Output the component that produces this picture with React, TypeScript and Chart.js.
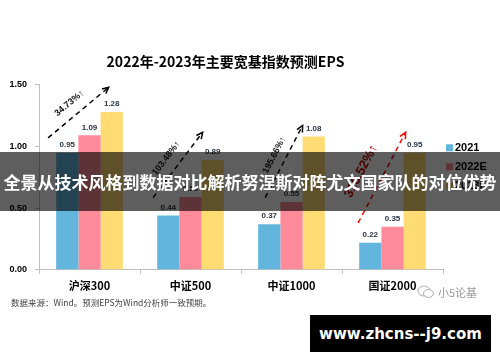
import React, { useEffect, useRef } from 'react';
import { Chart, registerables } from 'chart.js';

Chart.register(...registerables);

// ---------- data ----------
const categories = ['沪深300', '中证500', '中证1000', '国证2000'];
const seriesNames = ['2021', '2022E', '2023E'];
const eps2021 = [0.95, 0.44, 0.37, 0.22];
const eps2022E = [1.09, 0.59, 0.55, 0.35];
const eps2023E = [1.28, 0.89, 1.08, 0.95];
const growthLabels = ['34.73%', '103.48%', '195.66%', '316.52%'];
const yMin = 0;
const yMax = 1.5;
const yStep = 0.5;

const chartTitle = '2022年-2023年主要宽基指数预测EPS';
const footnote = '数据来源：Wind。预测EPS为Wind分析师一致预期。';
const bannerText = '全景从技术风格到数据对比解析努涅斯对阵尤文国家队的对位优势';
const watermarkText = 'www.zhcns--j9.com';
const brandText = '小5论基';

// ---------- styles ----------
const COLORS = ['#62B6DD', '#FF8A99', '#FFDC73'];
const NUM_FONT = '"Liberation Sans", Arial, sans-serif';
const CJK_FONT = '"Noto Sans CJK SC", "Noto Sans", sans-serif';

// growth arrow geometry: offsets in category widths from the category centre, values in EPS units
const arrowGeom = [
  { x0: -0.41, y0: 1.07, x1: 0.19, y1: 1.48, lx: -0.2, ly: 1.35, color: '#000000', textColor: '#111111', size: 9 },
  { x0: -0.37, y0: 0.585, x1: 0.12, y1: 1.115, lx: -0.24, ly: 0.905, color: '#000000', textColor: '#111111', size: 9 },
  { x0: -0.26, y0: 0.585, x1: 0.11, y1: 1.17, lx: -0.17, ly: 0.93, color: '#000000', textColor: '#111111', size: 9 },
  { x0: -0.34, y0: 0.38, x1: 0.13, y1: 1.115, lx: -0.31, ly: 0.8, color: '#FF0000', textColor: '#C00000', size: 13 },
];

export default function App() {
  const ref = useRef<HTMLCanvasElement>(null);

  useEffect(() => {
    const canvas = ref.current;
    if (!canvas) return;

    const valueLabels = {
      id: 'valueLabels',
      afterDatasetsDraw(chart: any) {
        const ctx = chart.ctx;
        ctx.save();
        ctx.font = `bold 8px ${NUM_FONT}`;
        ctx.fillStyle = '#2A3644';
        ctx.textAlign = 'center';
        ctx.textBaseline = 'bottom';
        chart.data.datasets.forEach((ds: any, di: number) => {
          const meta = chart.getDatasetMeta(di);
          meta.data.forEach((bar: any, i: number) => {
            ctx.fillText(Number(ds.data[i]).toFixed(2), bar.x, bar.y - 4);
          });
        });
        ctx.restore();
      },
    };

    const growthArrows = {
      id: 'growthArrows',
      afterDatasetsDraw(chart: any) {
        const ctx = chart.ctx;
        const xs = chart.scales.x;
        const ys = chart.scales.y;
        const cw = (xs.right - xs.left) / categories.length;
        arrowGeom.forEach((g, i) => {
          const cx = xs.getPixelForValue(i);
          const px0 = cx + g.x0 * cw;
          const py0 = ys.getPixelForValue(g.y0);
          const px1 = cx + g.x1 * cw;
          const py1 = ys.getPixelForValue(g.y1);
          const ang = Math.atan2(py1 - py0, px1 - px0);
          ctx.save();
          ctx.strokeStyle = g.color;
          ctx.lineWidth = 1.5;
          ctx.setLineDash([5, 4]);
          ctx.beginPath();
          ctx.moveTo(px0, py0);
          ctx.lineTo(px1, py1);
          ctx.stroke();
          ctx.setLineDash([]);
          const h = 7;
          ctx.beginPath();
          ctx.moveTo(px1 - h * Math.cos(ang - 0.45), py1 - h * Math.sin(ang - 0.45));
          ctx.lineTo(px1, py1);
          ctx.lineTo(px1 - h * Math.cos(ang + 0.45), py1 - h * Math.sin(ang + 0.45));
          ctx.stroke();
          // label
          const lx = cx + g.lx * cw;
          const ly = ys.getPixelForValue(g.ly);
          ctx.translate(lx, ly);
          ctx.rotate(ang);
          ctx.font = `bold ${g.size}px ${NUM_FONT}`;
          ctx.fillStyle = g.textColor;
          ctx.textAlign = 'center';
          ctx.textBaseline = 'middle';
          ctx.fillText(growthLabels[i] + '↑', 0, 0);
          ctx.restore();
        });
      },
    };

    const sideLegend = {
      id: 'sideLegend',
      afterDraw(chart: any) {
        const ctx = chart.ctx;
        const area = chart.chartArea;
        ctx.save();
        ctx.font = `bold 11px ${NUM_FONT}`;
        ctx.textBaseline = 'middle';
        ctx.textAlign = 'left';
        chart.data.datasets.forEach((ds: any, i: number) => {
          const y = area.top + 63 + i * 19;
          const x = area.right + 3;
          ctx.fillStyle = ds.backgroundColor;
          ctx.fillRect(x, y - 3.5, 7, 7);
          ctx.fillStyle = '#000';
          ctx.fillText(ds.label, x + 9, y + 0.5);
        });
        ctx.restore();
      },
    };

    const seriesValues = [eps2021, eps2022E, eps2023E];

    const chart = new Chart(canvas, {
      type: 'bar',
      data: {
        labels: categories,
        datasets: seriesValues.map((d, i) => ({
          label: seriesNames[i],
          data: d,
          backgroundColor: COLORS[i],
          borderWidth: 0,
          categoryPercentage: 0.66,
          barPercentage: 1.0,
        })),
      },
      options: {
        responsive: false,
        animation: false,
        events: [],
        layout: { padding: { left: 8, right: 57, top: 0, bottom: 65 } },
        plugins: {
          legend: { display: false },
          tooltip: { enabled: false },
          title: {
            display: true,
            text: chartTitle,
            color: '#000',
            font: { family: CJK_FONT, size: 14, weight: 'bold' },
            padding: { top: 53, bottom: 15 },
          },
        },
        scales: {
          x: {
            grid: { display: true, drawOnChartArea: false, drawTicks: true, tickLength: 4, color: '#BFBFBF', offset: true },
            border: { color: '#BFBFBF', width: 1 },
            ticks: { color: '#000', font: { family: CJK_FONT, size: 11, weight: 'bold' }, padding: 5, maxRotation: 0 },
          },
          y: {
            min: yMin,
            max: yMax,
            grid: { drawOnChartArea: false, drawTicks: true, tickLength: 4, color: '#BFBFBF' },
            border: { color: '#BFBFBF', width: 1 },
            ticks: {
              stepSize: yStep,
              color: '#000',
              padding: 8,
              font: { family: NUM_FONT, size: 9, weight: 'bold' },
              callback: (v: any) => Number(v).toFixed(2),
            },
            afterFit: (s: any) => {
              s.width = 31;
            },
          },
        },
      },
      plugins: [valueLabels, growthArrows, sideLegend],
    } as any);

    return () => chart.destroy();
  }, []);

  return (
    <div style={{ position: 'absolute', left: 0, top: 0, width: 500, height: 362, background: '#fff', overflow: 'hidden' }}>
      <canvas ref={ref} width={500} height={362} style={{ position: 'absolute', left: 0, top: 0, width: 500, height: 362 }} />
      <div
        style={{
          position: 'absolute', left: 11, top: 296, fontFamily: CJK_FONT, fontSize: 8.5,
          color: '#404040', whiteSpace: 'nowrap', lineHeight: '12px',
        }}
      >
        {footnote}
      </div>
      <div
        style={{
          position: 'absolute', left: 417, top: 284, display: 'flex', alignItems: 'center',
          fontFamily: CJK_FONT, fontSize: 11, color: '#9A9A9A', whiteSpace: 'nowrap', lineHeight: '16px',
        }}
      >
        <svg width="18" height="14" viewBox="0 0 18 14" style={{ marginRight: 3 }}>
          <ellipse cx="7" cy="6" rx="6" ry="5" fill="none" stroke="#A8A8A8" strokeWidth="1" />
          <ellipse cx="11.5" cy="8.5" rx="5" ry="4" fill="#fff" stroke="#A8A8A8" strokeWidth="1" />
        </svg>
        {brandText}
      </div>
      <div
        style={{
          position: 'absolute', left: 0, top: 152, width: 500, height: 59,
          background: 'rgba(0,0,0,0.63)', color: '#fff', display: 'flex', alignItems: 'center',
          justifyContent: 'center', fontFamily: CJK_FONT, fontWeight: 'bold', fontSize: 17,
          whiteSpace: 'nowrap', letterSpacing: 0,
        }}
      >
        {bannerText}
      </div>
      <div
        style={{
          position: 'absolute', left: 310, top: 315, width: 181, height: 37, background: '#000',
          color: '#fff', display: 'flex', alignItems: 'center', justifyContent: 'center',
          fontFamily: '"DejaVu Sans", Verdana, sans-serif', fontWeight: 'bold', fontSize: 15, whiteSpace: 'nowrap',
        }}
      >
        {watermarkText}
      </div>
    </div>
  );
}
